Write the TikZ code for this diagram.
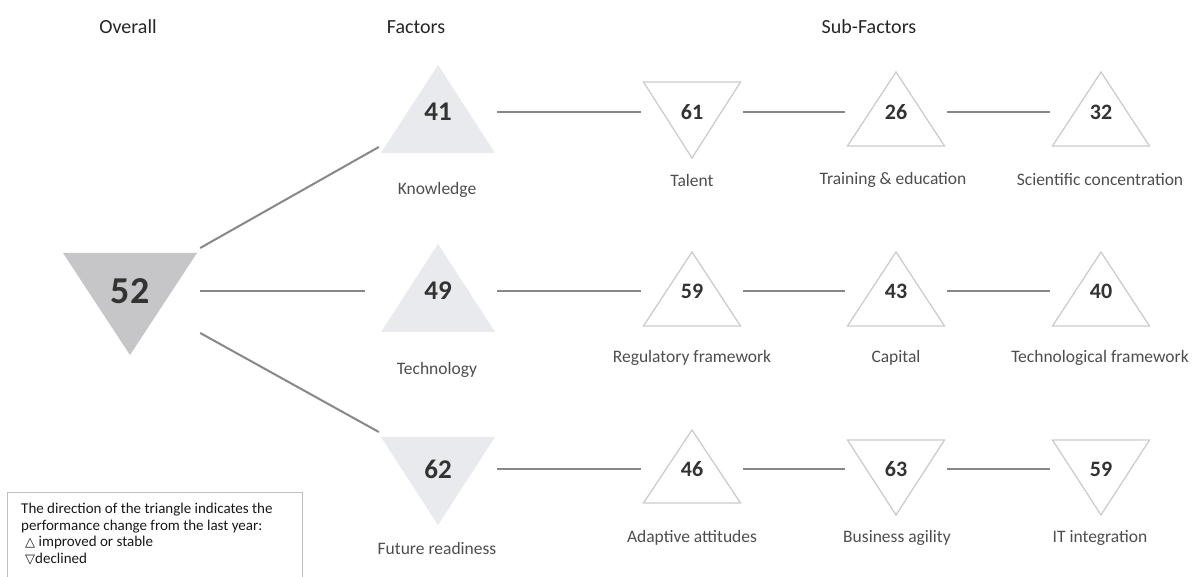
\documentclass[tikz,border=0pt]{standalone}
\usepackage{fontspec}
\setmainfont{Carlito}
\newfontfamily\symfont{DejaVu Sans}
\usetikzlibrary{calc,backgrounds}
\definecolor{ovfill}{HTML}{C6C5C7}
\definecolor{facfill}{HTML}{E9EAEE}
\definecolor{subline}{HTML}{CDCDCD}
\definecolor{numc}{HTML}{333333}
\definecolor{labc}{HTML}{4E4E4E}
\definecolor{connc}{HTML}{888888}
\newcommand\tridown[5]{\path[#5] ($(#1)+(-#2,-#3)$) -- ($(#1)+(#2,-#3)$) -- ($(#1)+(0,#4)$) -- cycle;}
\newcommand\triup[5]{\path[#5] ($(#1)+(0,-#3)$) -- ($(#1)+(#2,#4)$) -- ($(#1)+(-#2,#4)$) -- cycle;}
\tikzset{
  ovnum/.style={font=\bfseries\fontsize{38}{38}\selectfont, text=numc, inner sep=0pt, minimum width=140pt, minimum height=30pt},
  facnum/.style={font=\bfseries\fontsize{27}{27}\selectfont, text=numc, inner sep=0pt, minimum width=118pt, minimum height=20pt},
  subnum/.style={font=\bfseries\fontsize{22}{22}\selectfont, text=numc, inner sep=0pt, minimum width=102pt, minimum height=18pt},
  lab/.style={font=\fontsize{17.5}{19}\selectfont, text=labc, inner sep=0pt},
  head/.style={font=\fontsize{20}{22}\selectfont, text=black!85, inner sep=0pt},
  conn/.style={draw=connc, line width=2pt},
  ovtri/.style={fill=ovfill},
  factri/.style={fill=facfill},
  subtri/.style={draw=subline, line width=1.3pt, line join=miter},
}
\begin{document}
\begin{tikzpicture}[x=1pt,y=-1pt]
\useasboundingbox (0,0) rectangle (1195,577);
% headers
\node[head] (hov) at (128,27) {Overall};
\node[head] (hfa) at (416,27) {Factors};
\node[head] (hsu) at (869,27) {Sub-Factors};
% overall
\node[ovnum] (ov) at (130,291) {52};
% factors
\node[facnum] (kn) at (438,112) {41};
\node[facnum] (te) at (438,291) {49};
\node[facnum] (fr) at (438,469) {62};
% sub-factors
\node[subnum] (s11) at (692,112) {61};
\node[subnum] (s12) at (896,112) {26};
\node[subnum] (s13) at (1101,112) {32};
\node[subnum] (s21) at (692,291) {59};
\node[subnum] (s22) at (896,291) {43};
\node[subnum] (s23) at (1101,291) {40};
\node[subnum] (s31) at (692,469) {46};
\node[subnum] (s32) at (896,469) {63};
\node[subnum] (s33) at (1101,469) {59};
\begin{pgfonlayer}{background}
\fill[white] (0,0) rectangle (1195,577);
\tridown{ov}{67}{38}{64}{ovtri}
\triup{kn}{57}{47}{41}{factri}
\triup{te}{57}{47}{41}{factri}
\tridown{fr}{57}{32}{56}{factri}
\tridown{s11}{48.5}{30}{46}{subtri}
\triup{s12}{48.5}{40}{34}{subtri}
\triup{s13}{48.5}{40}{34}{subtri}
\triup{s21}{48.5}{39}{35}{subtri}
\triup{s22}{48.5}{39}{35}{subtri}
\triup{s23}{48.5}{39}{35}{subtri}
\triup{s31}{48.5}{39}{34}{subtri}
\tridown{s32}{48.5}{29}{46}{subtri}
\tridown{s33}{48.5}{29}{46}{subtri}
\end{pgfonlayer}
% labels
\node[lab] (lkn) at (437,190) {Knowledge};
\node[lab] (lte) at (437,370) {Technology};
\node[lab] (lfr) at (437,548) {Future readiness};
\node[lab] (l11) at (692,180) {Talent};
\node[lab] (l12) at (893,180) {Training \& education};
\node[lab] (l13) at (1100,180) {Scientific concentration};
\node[lab] (l21) at (692,358) {Regulatory framework};
\node[lab] (l22) at (896,358) {Capital};
\node[lab] (l23) at (1100,358) {Technological framework};
\node[lab] (l31) at (692,538) {Adaptive attitudes};
\node[lab] (l32) at (897,538) {Business agility};
\node[lab] (l33) at (1100,538) {IT integration};
% connectors overall -> factors
\draw[conn] ($(ov.east)+(0,-43)$) -- ($(kn.west)+(0,35)$);
\draw[conn, shorten >=14pt] (ov.east) -- (te.west);
\draw[conn] ($(ov.east)+(0,42)$) -- ($(fr.west)+(0,-37)$);
% connectors factors -> sub-factors
\draw[conn] (kn.east) -- (s11.west);
\draw[conn] (s11.east) -- (s12.west);
\draw[conn] (s12.east) -- (s13.west);
\draw[conn] (te.east) -- (s21.west);
\draw[conn] (s21.east) -- (s22.west);
\draw[conn] (s22.east) -- (s23.west);
\draw[conn] (fr.east) -- (s31.west);
\draw[conn] (s31.east) -- (s32.west);
\draw[conn] (s32.east) -- (s33.west);
% legend
\draw[draw=black!25, line width=1pt] (7,600) -- (7,492) -- (302,492) -- (302,600);
\node[anchor=north west, align=left, inner sep=0pt, text=black!90,
  font=\fontsize{15}{16.5}\selectfont] (leg) at (21,503)
  {The direction of the triangle indicates the\\
   performance change from the last year:\\
   \hspace*{4pt}{\symfont\fontsize{13}{16.5}\selectfont △} improved or stable\\
   \hspace*{4pt}{\symfont\fontsize{13}{16.5}\selectfont ▽}declined};
\end{tikzpicture}
\end{document}
